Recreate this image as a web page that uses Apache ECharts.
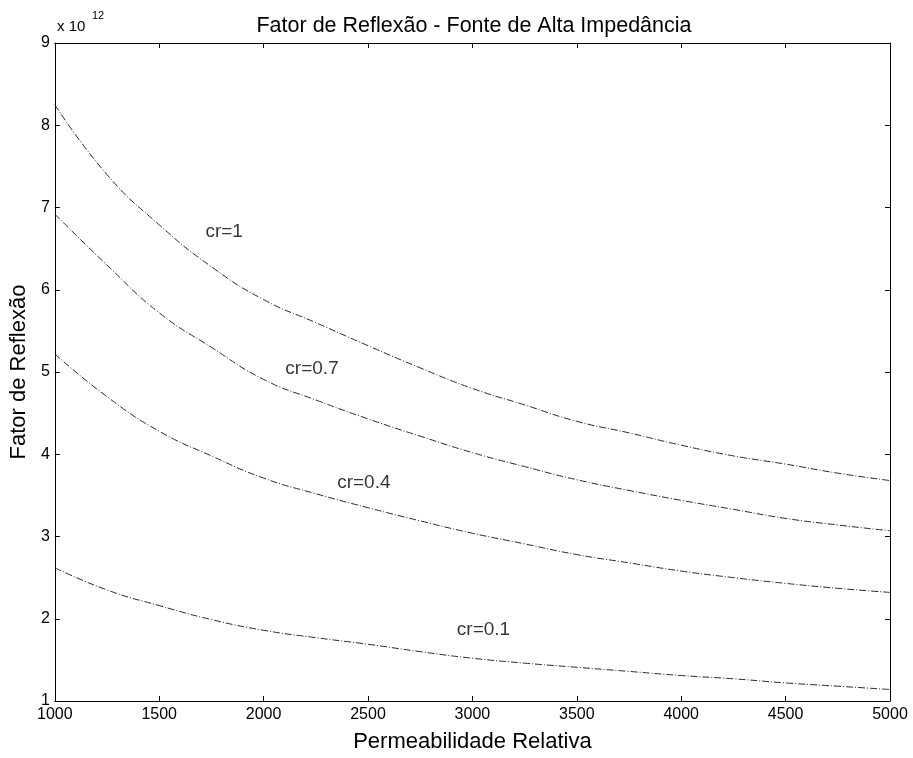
<!DOCTYPE html>
<html>
<head>
<meta charset="utf-8">
<script src="https://cdn.jsdelivr.net/npm/echarts@6/dist/echarts.min.js"></script>
<style>
  html, body { margin: 0; padding: 0; background: #fff; }
  #chart { width: 913px; height: 758px; }
</style>
</head>
<body>
<div id="chart"></div>
<script>
// permeabilidade relativa (eixo x)
const permeabilidade = [1000, 1250, 1500, 1750, 2000, 2250, 2500, 2750, 3000,
  3250, 3500, 3750, 4000, 4250, 4500, 4750, 5000]

// fator de reflexão, em unidades de 10^12
const cr1 = [8.25, 7.40, 6.79, 6.28, 5.88, 5.60, 5.32, 5.05, 4.80, 4.60, 4.40, 4.26, 4.11, 3.98, 3.88, 3.77, 3.68]
const cr07 = [6.92, 6.30, 5.72, 5.30, 4.91, 4.66, 4.43, 4.22, 4.02, 3.85, 3.69, 3.56, 3.44, 3.33, 3.22, 3.14, 3.07]
const cr04 = [5.22, 4.70, 4.28, 3.98, 3.71, 3.52, 3.35, 3.19, 3.04, 2.91, 2.78, 2.68, 2.58, 2.50, 2.43, 2.37, 2.32]
const cr01 = [2.62, 2.35, 2.16, 1.99, 1.86, 1.77, 1.69, 1.60, 1.52, 1.46, 1.41, 1.36, 1.31, 1.27, 1.22, 1.18, 1.14]

const curveNames = ['cr=1', 'cr=0.7', 'cr=0.4', 'cr=0.1']
const curveValues = [cr1, cr07, cr04, cr01]
// onde fica o texto de cada curva (coordenadas de dados)
const labelAnchors = [[1811, 6.71], [2232, 5.04], [2480, 3.65], [3053, 1.86]]

const xTicks = [1000, 1500, 2000, 2500, 3000, 3500, 4000, 4500, 5000]
const yTicks = [1, 2, 3, 4, 5, 6, 7, 8, 9]

const font = '"Liberation Sans", Arial, Helvetica, sans-serif'
const black = '#000'

const chart = echarts.init(document.getElementById('chart'), null, { renderer: 'canvas' })

const boxAxis = (pos) => ({
  position: pos,
  axisLine: { show: true, onZero: false, lineStyle: { color: black, width: 1 } },
  axisTick: { show: true, inside: true, length: 5, lineStyle: { color: black } },
  splitLine: { show: false }
})

const xBase = {
  type: 'value', min: xTicks[0], max: xTicks[xTicks.length - 1], interval: 500
}
const yBase = {
  type: 'value', min: yTicks[0], max: yTicks[yTicks.length - 1], interval: 1
}

const lineSeries = curveNames.map((name, i) => ({
  name,
  type: 'line',
  smooth: 0.5,
  showSymbol: false,
  data: permeabilidade.map((x, j) => [x, curveValues[i][j]]),
  lineStyle: { color: '#2a2a2a', width: 1, type: [7, 2, 1, 2] },
  z: 3
}))

const option = {
  backgroundColor: '#fff',
  animation: false,
  textStyle: { fontFamily: font },
  title: {
    text: 'Fator de Reflexão - Fonte de Alta Impedância',
    left: 469,
    textAlign: 'center',
    top: 10,
    textStyle: { fontFamily: font, fontSize: 21.5, fontWeight: 'normal', color: black }
  },
  grid: { left: 52, right: 23, top: 43, bottom: 54, containLabel: false },
  xAxis: [
    Object.assign({}, xBase, boxAxis('bottom'), {
      name: 'Permeabilidade Relativa',
      nameLocation: 'middle',
      nameGap: 30,
      nameTextStyle: { fontFamily: font, fontSize: 22, color: black },
      axisLabel: { color: black, fontSize: 16, fontFamily: font, margin: 6, formatter: (v) => String(v) }
    }),
    Object.assign({}, xBase, boxAxis('top'), { axisLabel: { show: false } })
  ],
  yAxis: [
    Object.assign({}, yBase, boxAxis('left'), {
      name: 'Fator de Reflexão',
      nameLocation: 'middle',
      nameGap: 21,
      nameTextStyle: { fontFamily: font, fontSize: 22, color: black },
      axisLabel: { color: black, fontSize: 16, fontFamily: font, margin: 5 }
    }),
    Object.assign({}, yBase, boxAxis('right'), { axisLabel: { show: false } })
  ],
  graphic: [
    {
      type: 'text', left: 57, top: 19,
      style: { text: 'x 10', font: '15px ' + font, fill: black }
    },
    {
      type: 'text', left: 92, top: 10,
      style: { text: '12', font: '11px ' + font, fill: black }
    }
  ],
  series: lineSeries.concat([{
    name: 'rotulos',
    type: 'scatter',
    symbolSize: 0,
    silent: true,
    data: curveNames.map((name, i) => ({ name, value: labelAnchors[i] })),
    label: {
      show: true,
      position: 'inside',
      formatter: (p) => p.name,
      fontFamily: font,
      fontSize: 19,
      color: black
    },
    z: 4
  }])
}

chart.setOption(option)
</script>
</body>
</html>
